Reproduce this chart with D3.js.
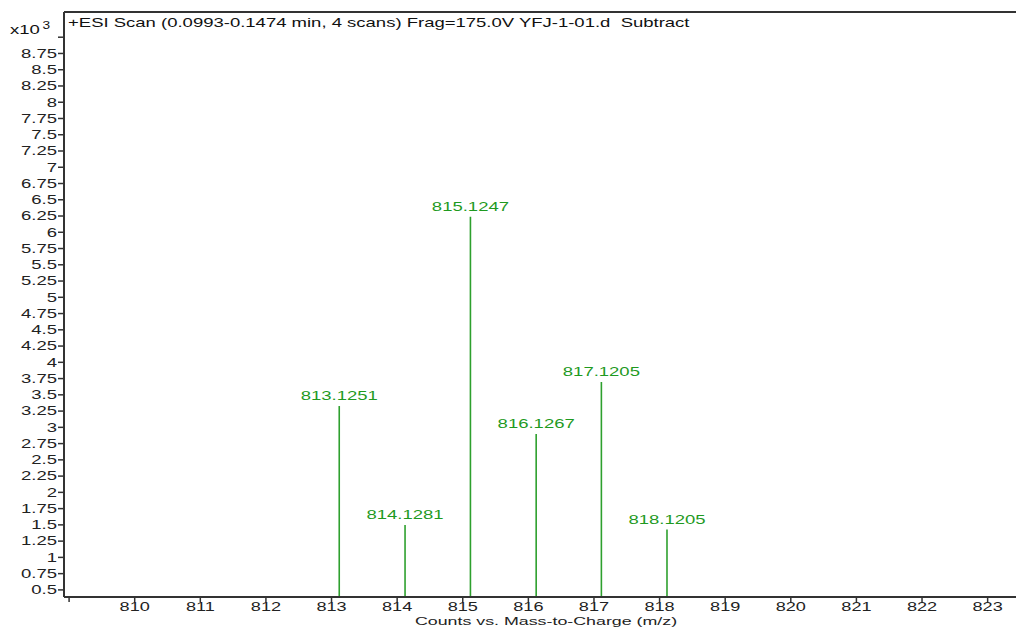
<!DOCTYPE html>
<html><head><meta charset="utf-8">
<script src="https://cdn.jsdelivr.net/npm/d3@7"></script>
<style>body{margin:0;background:#fff}svg{display:block}text{font-family:"Liberation Sans",Arial,sans-serif}</style>
</head><body><svg id="c" width="1016" height="627"></svg>
<script>
const peakMz = [813.1251, 814.1281, 815.1247, 816.1267, 817.1205, 818.1205];
const peakCounts = [3.32, 1.49, 6.23, 2.89, 3.69, 1.42];
const peakLabels = ["813.1251", "814.1281", "815.1247", "816.1267", "817.1205", "818.1205"];
const xTicks = [809, 810, 811, 812, 813, 814, 815, 816, 817, 818, 819, 820, 821, 822, 823];
const yTicks = [0.5, 0.75, 1, 1.25, 1.5, 1.75, 2, 2.25, 2.5, 2.75, 3, 3.25, 3.5, 3.75, 4, 4.25, 4.5, 4.75, 5, 5.25, 5.5, 5.75, 6, 6.25, 6.5, 6.75, 7, 7.25, 7.5, 7.75, 8, 8.25, 8.5, 8.75, 9];
const title = "+ESI Scan (0.0993-0.1474 min, 4 scans) Frag=175.0V YFJ-1-01.d  Subtract";
const xLabel = "Counts vs. Mass-to-Charge (m/z)";

const SX = 1.37, FS = 13.5;
const svg = d3.select("#c");
const L = 64, R = 1016, T = 12, B = 597;
const x = d3.scaleLinear().domain([808.93, 823.44]).range([L, R]);
const y = d3.scaleLinear().domain([0.383, 9.38]).range([B, T]);
const axisColor = "#333";

function wideText(g, px, py, str, anchor, color, fs, sx) {
  return g.append("text").attr("transform", `translate(${px},${py}) scale(${sx || SX},1)`)
    .attr("text-anchor", anchor || "start").attr("font-size", fs || FS)
    .attr("fill", color || "#111").attr("xml:space", "preserve").text(str);
}

// y axis
const ya = svg.append("g").attr("transform", `translate(${L},0)`)
  .call(d3.axisLeft(y).tickValues(yTicks).tickSize(6).tickPadding(2)
    .tickFormat(d => d === 9 ? "" : d3.format("")(d)));
ya.select(".domain").remove();
ya.selectAll(".tick line").attr("stroke", axisColor).attr("stroke-width", 1.5);
ya.selectAll(".tick text").attr("font-size", FS).attr("fill", "#222")
  .attr("x", -7 / SX).attr("transform", `scale(${SX},1)`);

// x axis
const xa = svg.append("g").attr("transform", `translate(0,${B})`)
  .call(d3.axisBottom(x).tickValues(xTicks).tickSize(5).tickPadding(0)
    .tickFormat(d => d === 809 ? "" : d));
xa.select(".domain").remove();
xa.selectAll(".tick line").attr("stroke", axisColor).attr("stroke-width", 1.5);
xa.selectAll(".tick text").attr("font-size", 12.5).attr("fill", "#222")
  .attr("transform", `scale(1.45,1)`);

// frame
svg.append("line").attr("x1", L).attr("x2", L).attr("y1", T).attr("y2", B).attr("stroke", axisColor).attr("stroke-width", 2);
svg.append("line").attr("x1", L).attr("x2", R).attr("y1", B).attr("y2", B).attr("stroke", axisColor).attr("stroke-width", 2);
svg.append("line").attr("x1", L).attr("x2", R).attr("y1", T).attr("y2", T).attr("stroke", axisColor).attr("stroke-width", 2);

// title
wideText(svg, 68, 27, title, "start", "#111");
const ex = svg.append("text").attr("transform", `translate(10,34) scale(${SX},1)`).attr("font-size", FS).attr("fill", "#111");
ex.append("tspan").text("x10");
ex.append("tspan").attr("dx", 2).attr("dy", -5).attr("font-size", 10).text("3");

// x label
wideText(svg, 546, 624.5, xLabel, "middle", "#222", 11.5, 1.55);

// peaks
const peaks = peakMz.map((m, i) => ({m, c: peakCounts[i], l: peakLabels[i]}));
svg.selectAll("line.peak").data(peaks).join("line").attr("class", "peak")
  .attr("x1", d => x(d.m)).attr("x2", d => x(d.m))
  .attr("y1", B - 1).attr("y2", d => y(d.c))
  .attr("stroke", "#2ea02e").attr("stroke-width", 1.6);
svg.selectAll("text.plabel").data(peaks).join("text").attr("class", "plabel")
  .attr("transform", d => `translate(${x(d.m)},${y(d.c) - 6}) scale(${SX},1)`)
  .attr("text-anchor", "middle").attr("font-size", FS).attr("fill", "#1f9a1f")
  .text(d => d.l);
</script></body></html>
